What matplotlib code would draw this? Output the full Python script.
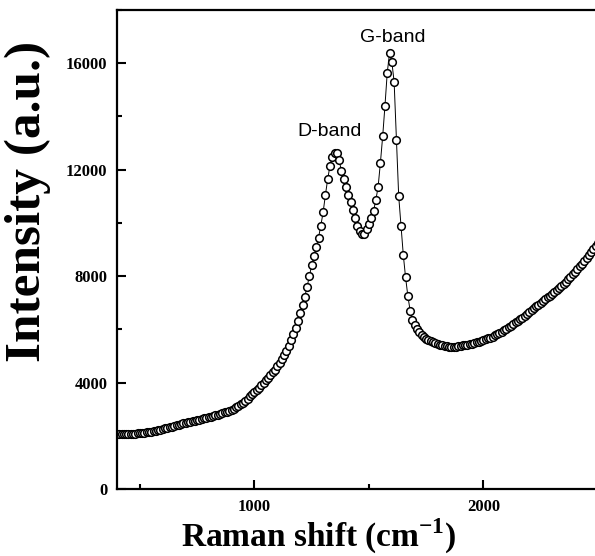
import matplotlib
matplotlib.use('Agg')
import matplotlib.pyplot as plt
from matplotlib.ticker import MultipleLocator
import numpy as np

plt.rcParams['font.family'] = 'Liberation Serif'
plt.rcParams['font.weight'] = 'bold'
plt.rcParams['mathtext.fontset'] = 'custom'
plt.rcParams['mathtext.rm'] = 'Liberation Serif:bold'
plt.rcParams['mathtext.bf'] = 'Liberation Serif:bold'

# Raman spectrum, sampled every 10 cm-1 from 400 to 2500
shift = np.arange(400, 2501, 10)
intensity = [
    2060, 2060, 2060, 2065, 2065, 2070, 2075, 2080, 2085, 2090, 2100, 2110, 2120, 2130, 2140, 2150,
    2170, 2190, 2210, 2230, 2250, 2275, 2300, 2320, 2345, 2370, 2390, 2415, 2440, 2465, 2485,
    2505, 2525, 2545, 2565, 2585, 2605, 2625, 2650, 2670, 2690, 2715, 2740, 2765, 2790, 2820,
    2850, 2880, 2910, 2945, 2985, 3025, 3070, 3120, 3180, 3250, 3320, 3400, 3480, 3560, 3640, 3720, 3800,
    3890, 3980, 4080, 4180, 4280, 4380, 4490, 4610, 4740, 4870, 5020, 5190, 5390, 5600, 5810, 6050,
    6320, 6620, 6930, 7230, 7600, 8000, 8400,
    8750, 9100, 9450, 9900, 10400, 11050, 11650, 12150, 12480, 12640, 12620, 12350, 11950, 11650,
    11350, 11050, 10780, 10480, 10180, 9880, 9680, 9590, 9600, 9760, 9960,
    10180, 10450, 10850, 11350, 12250, 13250, 14400, 15650, 16370, 16050, 15300, 13100, 11000, 9900,
    8800, 7950, 7250, 6700, 6350, 6150, 6020, 5900, 5800, 5700, 5640,
    5590, 5550, 5520, 5490, 5460, 5430, 5400, 5380, 5360, 5340, 5340, 5340, 5350, 5360, 5380, 5395,
    5410, 5425, 5440, 5460, 5480, 5510, 5540, 5570, 5600,
    5630, 5660, 5690, 5730, 5770, 5810, 5860, 5910, 5960, 6020, 6080, 6140, 6200, 6260, 6320, 6380,
    6440, 6510, 6580, 6650, 6720, 6790, 6860, 6930, 7000,
    7070, 7140, 7210, 7270, 7330, 7400, 7470, 7550, 7630, 7710, 7790, 7880, 7970, 8070, 8170, 8270,
    8370, 8470, 8580, 8690, 8800, 8910, 9020, 9130, 9240,
]

band_labels = ['D-band', 'G-band']
band_pos = [(1326, 13450), (1605, 16970)]

fig = plt.figure(figsize=(5.95, 5.56), dpi=100)
ax = fig.add_axes([0.1966, 0.1205, 0.8084, 0.8615])

ax.plot(shift, intensity, '-o', color='black', lw=0.7, ms=5.5,
        mfc='white', mec='black', mew=1.1)

for lab, (x, y) in zip(band_labels, band_pos):
    ax.text(x, y, lab, ha='center', va='center', fontsize=14,
            family='Liberation Sans', fontweight='normal')

ax.set_xlim(400, 2500)
ax.set_ylim(0, 18000)
ax.xaxis.set_major_locator(MultipleLocator(1000))
ax.xaxis.set_minor_locator(MultipleLocator(500))
ax.yaxis.set_major_locator(MultipleLocator(4000))
ax.yaxis.set_minor_locator(MultipleLocator(2000))
ax.tick_params(which='both', direction='in', width=1.5, labelsize=12)
ax.tick_params(which='major', length=6.5)
ax.tick_params(which='minor', length=3.5)
ax.tick_params(axis='y', pad=7)
ax.tick_params(axis='x', pad=7)
for sp in ax.spines.values():
    sp.set_linewidth(1.6)

fig.text(28/595, 1 - 201/556, 'Intensity (a.u.)', rotation=90,
         ha='center', va='center', fontsize=37, fontweight='bold')
fig.text(319/595, 1 - 547/556, 'Raman shift (cm$^{-1}$)',
         ha='center', va='baseline', fontsize=24, fontweight='bold')

fig.savefig('out.png', dpi=100)
